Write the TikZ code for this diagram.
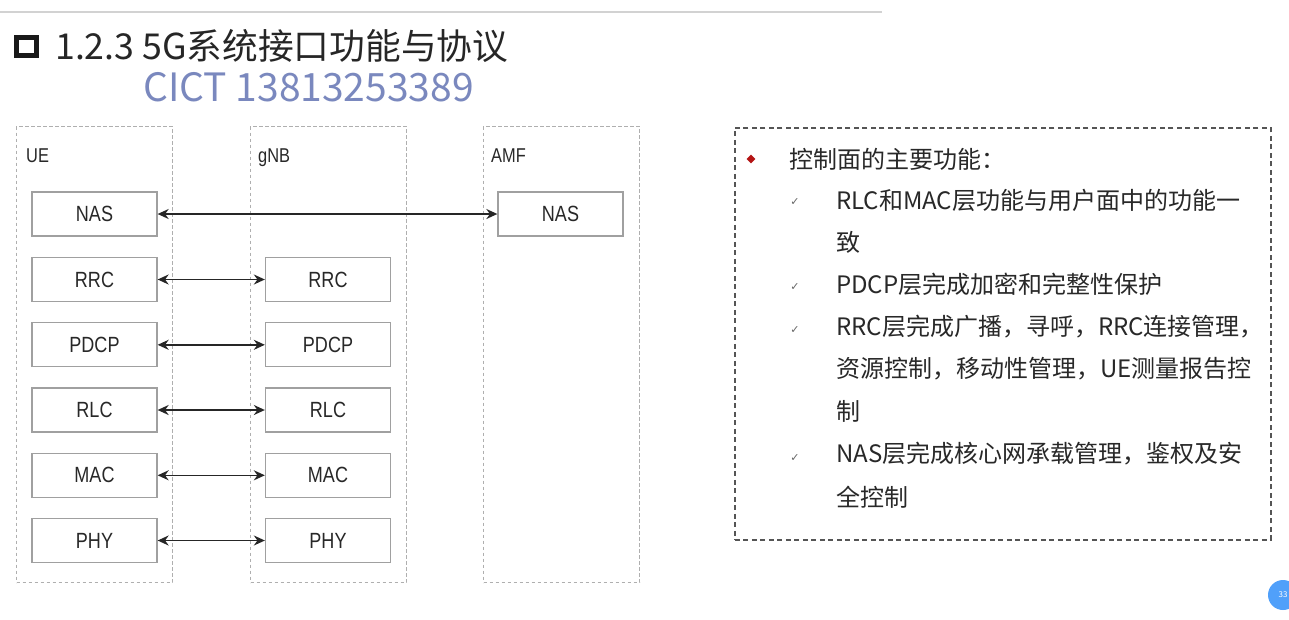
\documentclass[tikz,border=0pt]{standalone}
\usepackage{fontspec}
\setmainfont{Noto Sans CJK SC}
\newfontfamily\cjk{Noto Sans CJK SC}
\newfontfamily\arialn[FakeStretch=0.82]{Liberation Sans}
\newfontfamily\dvs{DejaVu Sans}
\usetikzlibrary{arrows.meta,shapes.geometric}
\definecolor{boxgray}{RGB}{160,160,160}
\definecolor{colgray}{RGB}{175,175,175}
\definecolor{txtgray}{RGB}{40,40,40}
\definecolor{panelgray}{RGB}{85,85,85}
\definecolor{darkred}{RGB}{180,20,20}
\definecolor{cictblue}{RGB}{122,136,190}
\definecolor{pageblue}{RGB}{80,160,250}
\definecolor{linegray}{RGB}{210,210,210}
\tikzset{
  layer/.style={draw=boxgray, line width=1.3pt, minimum width=125pt, minimum height=44pt, inner sep=0pt, text=txtgray, font=\arialn\fontsize{22}{22}\selectfont},
  colbox/.style={draw=colgray, line width=1pt, dash pattern=on 3.5pt off 2.5pt, minimum width=156pt, minimum height=456pt, anchor=north west, inner sep=0pt},
  collabel/.style={anchor=base west, inner sep=0pt, text=txtgray, font=\arialn\fontsize{20}{20}\selectfont},
  biarrow/.style={{Stealth[length=11pt,width=10pt]}-{Stealth[length=11pt,width=10pt]}, line width=1.6pt, black!85},
  paneltext/.style={anchor=west, inner sep=0pt, text=txtgray, font=\cjk\fontsize{24}{24}\selectfont},
  tick/.style={inner sep=0pt, text=black!60, font=\dvs\fontsize{11}{11}\selectfont},
}
\begin{document}
\begin{tikzpicture}[x=1pt,y=-1pt]
\useasboundingbox (0,0) rectangle (1289,619);
\fill[white] (0,0) rectangle (1289,619);
% top rule
\draw[linegray, line width=2.5pt] (0,12) -- (882,12);
% title
\node[draw=black!90, line width=5pt, minimum width=20pt, minimum height=18pt, inner sep=0pt] (tsq) at (26.7,46.5) {};
\node[anchor=base west, inner sep=0pt, text=black!85, font=\cjk\fontsize{35.7}{36}\selectfont] (title) at (55,59) {1.2.3 5G系统接口功能与协议};
\node[anchor=base west, inner sep=0pt, text=cictblue, font=\cjk\fontsize{39}{39}\selectfont] (cict) at (143,101) {CICT 13813253389};
% columns
\node[colbox] (ue) at (16,126) {};
\node[colbox] (gnb) at (250,126) {};
\node[colbox] (amf) at (483,126) {};
\node[collabel] (uel) at (26,162) {UE};
\node[collabel] (gnbl) at (258,162) {gNB};
\node[collabel] (amfl) at (491,162) {AMF};
% layers
\node[layer] (ueNAS) at (94.5,214) {NAS};
\node[layer] (amfNAS) at (560.5,214) {NAS};
\foreach \n/\y in {RRC/279.5, PDCP/344.8, RLC/410, MAC/475.3, PHY/540.5}{
  \node[layer] (ue\n) at (94.5,\y) {\n};
  \node[layer] (gnb\n) at (328,\y) {\n};
  \draw[biarrow] (ue\n.east) -- (gnb\n.west);
}
\draw[biarrow] (ueNAS.east) -- (amfNAS.west);
% right panel
\node[draw=panelgray, line width=1.6pt, dash pattern=on 5pt off 3.5pt, minimum width=536pt, minimum height=412pt, anchor=north west, inner sep=0pt] (panel) at (734,127) {};
\node[diamond, fill=darkred, minimum size=9pt, inner sep=0pt] (bul) at (751,159) {};
\node[paneltext] (head) at (789,159) {控制面的主要功能：};
\node[tick] (t1) at (795,202) {✓};
\node[tick] (t2) at (795,287) {✓};
\node[tick] (t3) at (795,330) {✓};
\node[tick] (t4) at (795,458) {✓};
\node[paneltext] (l1) at (836,200) {RLC和MAC层功能与用户面中的功能一};
\node[paneltext] (l2) at (836,242) {致};
\node[paneltext] (l3) at (836,284) {PDCP层完成加密和完整性保护};
\node[paneltext] (l4) at (836,327) {RRC层完成广播，寻呼，RRC连接管理，};
\node[paneltext] (l5) at (836,369) {资源控制，移动性管理，UE测量报告控};
\node[paneltext] (l6) at (836,411) {制};
\node[paneltext] (l7) at (836,454) {NAS层完成核心网承载管理，鉴权及安};
\node[paneltext] (l8) at (836,497) {全控制};
% page badge
\node[circle, fill=pageblue, minimum size=30pt, inner sep=0pt, text=white, font=\cjk\fontsize{8}{8}\selectfont] (badge) at (1283,595) {33};
\end{tikzpicture}
\end{document}
